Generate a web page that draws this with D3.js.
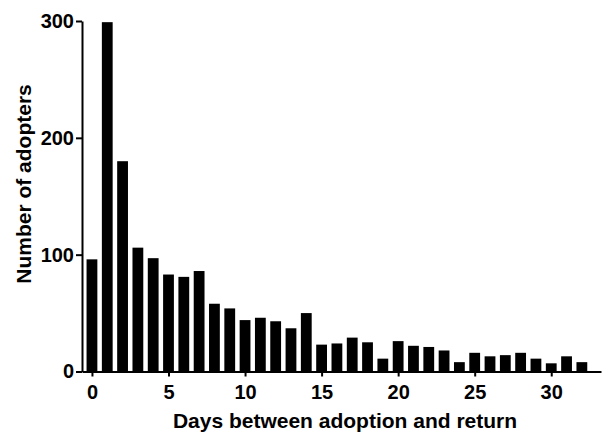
<!DOCTYPE html>
<html>
  <head>
    <meta charset="utf-8">
    <script src="https://d3js.org/d3.v7.min.js"></script>
    <style>
      body { margin: 0; background: #fff; }
      text { font-family: "Liberation Sans", Arial, sans-serif; font-weight: bold; fill: #000; }
    </style>
  </head>
  <body>
    <div id="wrapper"></div>
    <script>
      // days between adoption and return, 0..32
      var days = d3.range(0, 33);
      var adopters = [96, 299, 180, 106, 97, 83, 81, 86, 58, 54, 44, 46, 43, 37, 50, 23,
                      24, 29, 25, 11, 26, 22, 21, 18, 8, 16, 13, 14, 16, 11, 7, 13, 8];
      var xTicks = [0, 5, 10, 15, 20, 25, 30];
      var yTicks = [0, 100, 200, 300];

      var width = 604, height = 432;
      var plotLeft = 82, plotRight = 601, plotTop = 21, plotBottom = 371.5;

      var svg = d3.select("#wrapper").append("svg")
        .attr("width", width)
        .attr("height", height);

      var xScale = d3.scaleLinear().domain([-0.65, 33.25]).range([plotLeft, plotRight]);
      var yScale = d3.scaleLinear().domain([0, 300]).range([plotBottom, plotTop]);
      var barW = 10.8;

      svg.append("g").selectAll("rect")
        .data(days)
        .enter().append("rect")
        .attr("x", function(d) { return xScale(d) - barW / 2; })
        .attr("y", function(d) { return yScale(adopters[d]); })
        .attr("width", barW)
        .attr("height", function(d) { return yScale(0) - yScale(adopters[d]); })
        .attr("fill", "#000");

      var xAxis = d3.axisBottom(xScale).tickValues(xTicks).tickSize(5).tickPadding(8.5).tickSizeOuter(0);
      var gx = svg.append("g")
        .attr("transform", "translate(0," + plotBottom + ")")
        .call(xAxis);
      gx.select(".domain").attr("stroke-width", 2);
      gx.selectAll(".tick line").attr("stroke-width", 2);
      gx.selectAll(".tick text").style("font-size", "20px");

      var yAxis = d3.axisLeft(yScale).tickValues(yTicks).tickSize(6).tickPadding(2).tickSizeOuter(0);
      var gy = svg.append("g")
        .attr("transform", "translate(" + plotLeft + ",0)")
        .call(yAxis);
      gy.select(".domain").attr("stroke-width", 2);
      gy.selectAll(".tick line").attr("stroke-width", 2);
      gy.selectAll(".tick text").style("font-size", "20px");

      svg.append("text")
        .attr("x", 345)
        .attr("y", 428)
        .style("text-anchor", "middle")
        .style("font-size", "21px")
        .text("Days between adoption and return");

      svg.append("text")
        .attr("transform", "rotate(-90)")
        .attr("x", -184)
        .attr("y", 31)
        .style("text-anchor", "middle")
        .style("font-size", "21px")
        .text("Number of adopters");
    </script>
  </body>
</html>
